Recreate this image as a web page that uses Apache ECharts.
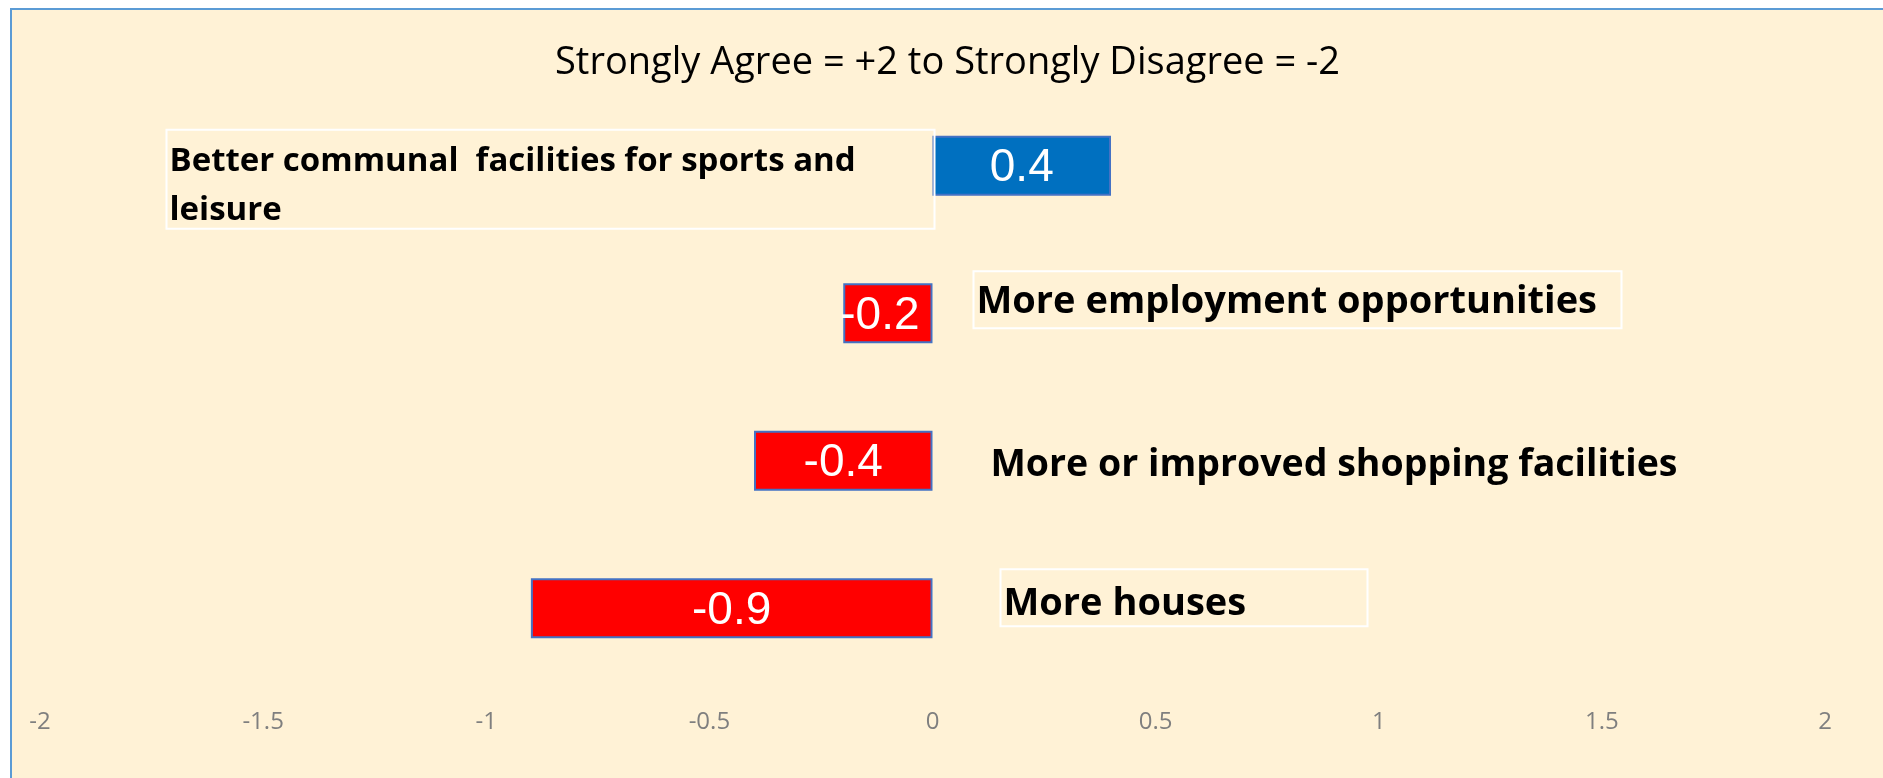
<!DOCTYPE html>
<html>
<head>
<meta charset="utf-8">
<script src="https://cdn.jsdelivr.net/npm/echarts@6/dist/echarts.min.js"></script>
<style>
  html, body { margin: 0; padding: 0; background: #ffffff; }
  #chart {
    position: absolute; left: 10px; top: 8px;
    width: 1871px; height: 768px;
    border-left: 2px solid #5B9BD5; border-top: 2px solid #5B9BD5;
  }
</style>
</head>
<body>
<div id="chart"></div>
<script>
// data
const categories = [
    'Better communal  facilities for sports and leisure',
    'More employment opportunities',
    'More or improved shopping facilities',
    'More houses'
];
const scores = [0.4, -0.2, -0.4, -0.9];
const xTicks = [-2, -1.5, -1, -0.5, 0, 0.5, 1, 1.5, 2];

// text box layout, relative to the zero line and bar centre
const boxDx = [-766, 41, 55, 68];
const boxDy = [-36, -42, -30, -39];
const boxW = [768, 648, 0, 367];
const boxH = [99, 57, 57, 57];
const textDy = [7, 2, 6, 6];
const boxFont = [33, 38, 37.5, 38];
const wrapW = [708, 0, 0, 0];
const valueShift = [0, -8, 0, 0];

const chart = echarts.init(document.getElementById('chart'));

function renderLabel(params, api) {
    const i = api.value(0);
    const p = api.coord([0, i]);
    const x = p[0] + boxDx[i];
    const y = p[1] + boxDy[i];
    const children = [];
    if (boxW[i] > 0) {
        children.push({
            type: 'rect',
            shape: { x: x, y: y, width: boxW[i], height: boxH[i] },
            style: { fill: 'none', stroke: '#ffffff', lineWidth: 2 }
        });
    }
    const style = {
        x: x + 3,
        y: y + boxH[i] / 2 + textDy[i],
        text: categories[i],
        lineHeight: 49,
        fill: '#000000',
        font: 'bold ' + boxFont[i] + 'px "Open Sans"',
        verticalAlign: 'middle',
        align: 'left'
    };
    if (wrapW[i] > 0) {
        style.width = wrapW[i];
        style.overflow = 'break';
    }
    children.push({ type: 'text', style: style });
    return { type: 'group', children: children };
}

const option = {
    backgroundColor: '#FFF2D6',
    animation: false,
    title: {
        text: 'Strongly Agree = +2 to Strongly Disagree = -2',
        left: 'center',
        top: 29,
        textStyle: {
            fontFamily: 'Open Sans',
            fontWeight: 'normal',
            fontSize: 38,
            color: '#000000'
        }
    },
    grid: {
        left: 28,
        right: 58,
        top: 82,
        bottom: 96
    },
    xAxis: {
        type: 'value',
        min: -2,
        max: 2,
        interval: 0.5,
        axisLine: { show: false },
        axisTick: { show: false },
        splitLine: { show: false },
        axisLabel: {
            margin: 28,
            fontFamily: 'Open Sans',
            fontSize: 24,
            color: '#7F7F7F',
            formatter: function (v) {
                return xTicks.indexOf(v) >= 0 ? String(v) : '';
            }
        }
    },
    yAxis: {
        type: 'category',
        inverse: true,
        data: categories,
        axisLine: { show: false },
        axisTick: { show: false },
        axisLabel: { show: false }
    },
    series: [{
        type: 'bar',
        barWidth: 60,
        data: scores.map(function (v, i) {
            return {
                value: v,
                itemStyle: { color: v >= 0 ? '#0070C0' : '#FF0000' },
                label: { offset: [valueShift[i], 3] }
            };
        }),
        itemStyle: {
            borderColor: '#4472C4',
            borderWidth: 2
        },
        label: {
            show: true,
            position: 'inside',
            color: '#ffffff',
            fontFamily: 'Liberation Sans',
            fontSize: 46,
            formatter: function (p) { return String(p.value); }
        }
    }, {
        type: 'custom',
        renderItem: renderLabel,
        data: categories.map(function (c, i) { return [i]; }),
        silent: true,
        z: 5
    }]
};

chart.setOption(option);
</script>
</body>
</html>
